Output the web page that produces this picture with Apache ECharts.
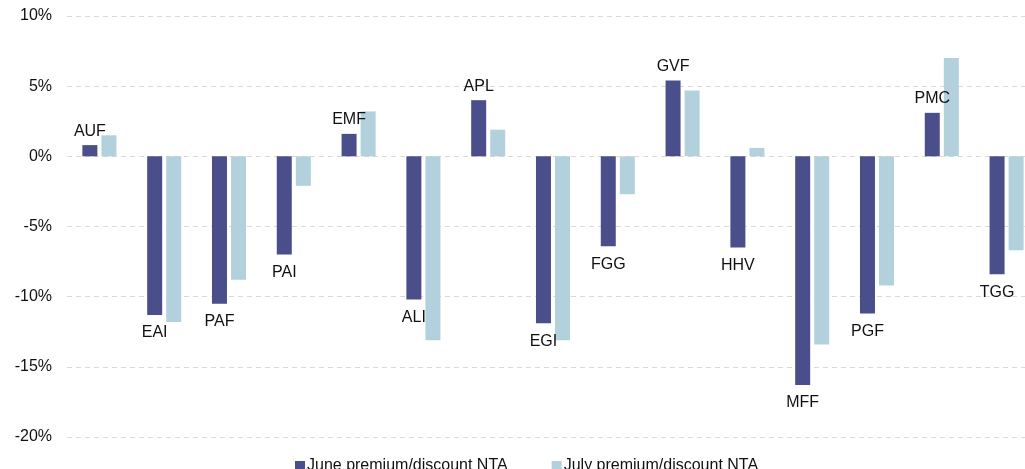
<!DOCTYPE html>
<html>
<head>
<meta charset="utf-8">
<script src="https://cdn.jsdelivr.net/npm/echarts@6/dist/echarts.min.js"></script>
<style>
  html, body { margin: 0; padding: 0; background: #fff; overflow: hidden; }
  /* plot runs past the right edge of the window, as in the source */
  #chart { width: 1060px; height: 469px; }
</style>
</head>
<body>
<div id="chart"></div>
<script>
// fund codes along the x axis
const funds = ['AUF', 'EAI', 'PAF', 'PAI', 'EMF', 'ALI', 'APL', 'EGI', 'FGG', 'GVF', 'HHV', 'MFF', 'PGF', 'PMC', 'TGG']
// premium / discount to NTA, in %
const juneNta = [0.8, -11.3, -10.5, -7.0, 1.6, -10.2, 4.0, -11.9, -6.4, 5.4, -6.5, -16.3, -11.2, 3.1, -8.4]
const julyNta = [1.5, -11.8, -8.8, -2.1, 3.2, -13.1, 1.9, -13.1, -2.7, 4.7, 0.6, -13.4, -9.2, 7.0, -6.7]
const yTicks = { min: -20, max: 10, step: 5 }

const font = '"Liberation Sans", Arial, sans-serif'
const chart = echarts.init(document.getElementById('chart'))

// name labels sit on the June bar, outside its end
const juneData = juneNta.map(v => ({
  value: v,
  label: v >= 0 ? { position: 'top', distance: 6 } : { position: 'bottom', distance: 10 }
}))

chart.setOption({
  animation: false,
  textStyle: { fontFamily: font },
  grid: { left: 67, top: 16, width: 972, height: 421 },
  legend: {
    top: 453, left: 290,
    itemWidth: 10, itemHeight: 10, itemGap: 44,
    textStyle: { fontSize: 16, color: '#111', fontFamily: font, padding: [0, 0, 0, -3] },
    data: [
      { name: 'June premium/discount NTA', icon: 'rect' },
      { name: 'July premium/discount NTA', icon: 'rect' }
    ]
  },
  xAxis: {
    type: 'category', data: funds,
    axisLine: { show: false }, axisTick: { show: false }, axisLabel: { show: false }
  },
  yAxis: {
    type: 'value', min: yTicks.min, max: yTicks.max, interval: yTicks.step,
    axisLine: { show: false }, axisTick: { show: false },
    axisLabel: { formatter: '{value}%', fontSize: 16, color: '#111', margin: 15, fontFamily: font },
    splitLine: { lineStyle: { color: '#d9d9d9', type: [5, 4], width: 1 } }
  },
  series: [
    {
      name: 'June premium/discount NTA', type: 'bar', data: juneData,
      barWidth: 15, barGap: '27%',
      itemStyle: { color: '#4a4f8b' },
      label: { show: true, formatter: '{b}', fontSize: 16, color: '#111', fontFamily: font }
    },
    {
      name: 'July premium/discount NTA', type: 'bar', data: julyNta,
      barWidth: 15,
      itemStyle: { color: '#b3d1dc' }
    }
  ]
})
</script>
</body>
</html>
